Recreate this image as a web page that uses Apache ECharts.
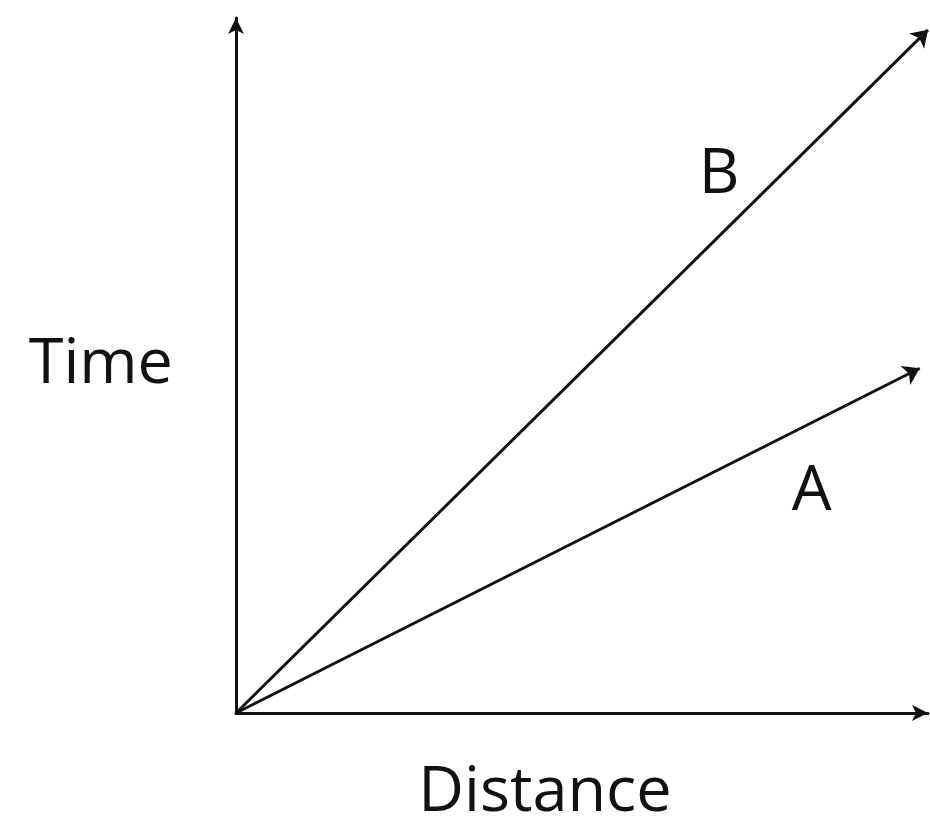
<!DOCTYPE html>
<html>
<head>
<meta charset="utf-8">
<script src="https://cdn.jsdelivr.net/npm/echarts@6/dist/echarts.min.js"></script>
<style>
  html, body { margin: 0; padding: 0; background: #fff; }
  #chart { width: 930px; height: 833px; }
</style>
</head>
<body>
<div id="chart"></div>
<script>
// two distance-time lines, both starting at the origin
const lineNames = ['A', 'B']
const lineStart = [[0, 0], [0, 0]]
const lineEnd = [[98.8, 49.6], [100, 98.3]]
const axisNames = ['Distance', 'Time']

const ink = '#111'
const font = '"Open Sans", "DejaVu Sans", sans-serif'

let myChart = echarts.init(document.getElementById('chart'))

let option = {
  animation: false,
  backgroundColor: '#fff',
  grid: {
    left: 236,
    right: 2,
    top: 18,
    bottom: 120
  },
  xAxis: {
    type: 'value',
    min: 0,
    max: 100,
    name: axisNames[0],
    nameLocation: 'middle',
    nameGap: 49,
    nameTextStyle: { color: ink, fontSize: 63, fontFamily: font, padding: [0, 74, 0, 0] },
    axisLine: {
      show: true,
      symbol: ['none', 'arrow'],
      symbolSize: [12, 16],
      lineStyle: { color: ink, width: 3 }
    },
    axisTick: { show: false },
    axisLabel: { show: false },
    splitLine: { show: false }
  },
  yAxis: {
    type: 'value',
    min: 0,
    max: 100,
    name: axisNames[1],
    nameLocation: 'middle',
    nameRotate: 0,
    nameGap: 63,
    nameTextStyle: { color: ink, fontSize: 63, fontFamily: font, padding: [0, 0, 0, 0] },
    axisLine: {
      show: true,
      symbol: ['none', 'arrow'],
      symbolSize: [12, 16],
      lineStyle: { color: ink, width: 3 }
    },
    axisTick: { show: false },
    axisLabel: { show: false },
    splitLine: { show: false }
  },
  series: [{
    type: 'lines',
    coordinateSystem: 'cartesian2d',
    symbol: ['none', 'arrow'],
    symbolSize: 16,
    lineStyle: { color: ink, width: 3, opacity: 1 },
    data: lineNames.map((n, i) => ({
      name: n,
      coords: [lineStart[i], lineEnd[i]]
    })),
    markPoint: {
      symbol: 'circle',
      symbolSize: 0,
      label: {
        show: true,
        position: 'inside',
        color: ink,
        fontSize: 63,
        fontFamily: font,
        formatter: p => p.name
      },
      data: [
        { name: lineNames[0], coord: [83.2, 31.8] },
        { name: lineNames[1], coord: [69.8, 77.4] }
      ]
    }
  }]
}

myChart.setOption(option)
</script>
</body>
</html>
